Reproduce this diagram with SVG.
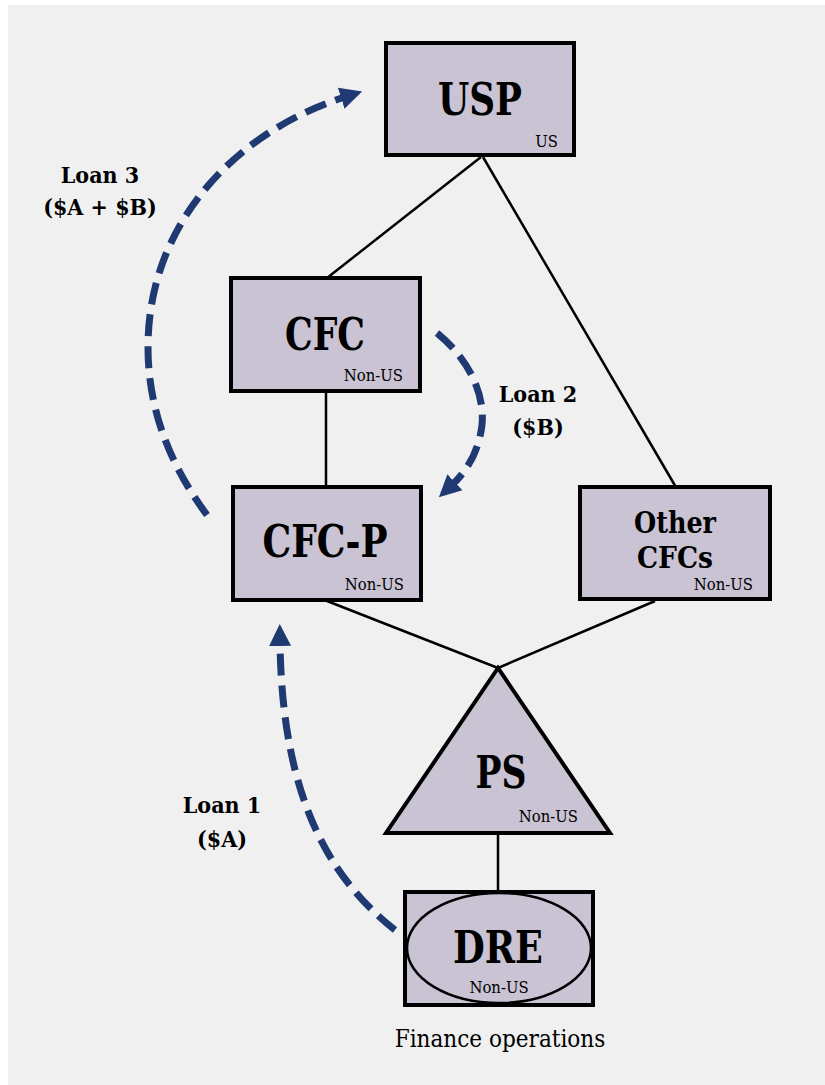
<svg xmlns="http://www.w3.org/2000/svg" width="825" height="1085" viewBox="0 0 825 1085">
  <style>
    .box { fill: #c9c3d3; stroke: #000; stroke-width: 4; }
    .oval { fill: #c9c3d3; stroke: #000; stroke-width: 2.5; }
    .link { fill: none; stroke: #000; stroke-width: 2.5; }
    .loan { fill: none; stroke: #1f3a73; stroke-width: 7; stroke-dasharray: 22 10; }
    .name { font-family: "DejaVu Serif Condensed", "DejaVu Serif", serif; font-weight: bold; fill: #000; text-anchor: middle; }
    .tag { font-family: "DejaVu Serif Condensed", "DejaVu Serif", serif; font-size: 16.5px; fill: #000; }
    .lbl { font-family: "DejaVu Serif Condensed", "DejaVu Serif", serif; font-weight: bold; font-size: 23px; fill: #000; text-anchor: middle; }
    .note { font-family: "DejaVu Serif Condensed", "DejaVu Serif", serif; font-size: 24px; fill: #000; text-anchor: middle; }
  </style>
  <defs>
    <marker id="head" markerUnits="userSpaceOnUse" markerWidth="26" markerHeight="26" refX="4" refY="12" orient="auto">
      <polygon points="0,1 22,12 0,23" fill="#1f3a73"/>
    </marker>
  </defs>

  <rect x="0" y="0" width="825" height="1085" fill="#ffffff"/>
  <rect x="8" y="5" width="817" height="1080" fill="#f0f0f0"/>

  <!-- ownership lines and loan arrows -->
  <g id="connectors">
    <line class="link" x1="481" y1="157" x2="327" y2="278"/>
    <line class="link" x1="483" y1="157" x2="677" y2="489"/>
    <line class="link" x1="326" y1="393" x2="326" y2="487"/>
    <line class="link" x1="327" y1="601" x2="498" y2="668"/>
    <line class="link" x1="655" y1="601" x2="498" y2="668"/>
    <line class="link" x1="498" y1="833" x2="498" y2="892"/>

    <path class="loan" d="M207,515 C170,465 148,410 148,347 C148,220 240,130 345,97" marker-end="url(#head)"/>
    <path class="loan" d="M437,333 C470,360 485,395 482,425 C479,450 468,470 452,485" marker-end="url(#head)"/>
    <path class="loan" d="M395,930 C325,875 282,790 280,642" marker-end="url(#head)"/>
  </g>

  <g id="usp">
    <rect class="box" x="386" y="43" width="188" height="112"/>
    <text class="name" x="480" y="115" font-size="45" textLength="84" lengthAdjust="spacingAndGlyphs">USP</text>
    <text class="tag" x="558" y="147" text-anchor="end">US</text>
  </g>

  <g id="cfc">
    <rect class="box" x="231" y="278" width="189" height="113"/>
    <text class="name" x="325" y="350" font-size="45" textLength="80" lengthAdjust="spacingAndGlyphs">CFC</text>
    <text class="tag" x="403" y="381" text-anchor="end">Non-US</text>
  </g>

  <g id="cfc-p">
    <rect class="box" x="233" y="487" width="188" height="113"/>
    <text class="name" x="325" y="557" font-size="45" textLength="125" lengthAdjust="spacingAndGlyphs">CFC-P</text>
    <text class="tag" x="404" y="590" text-anchor="end">Non-US</text>
  </g>

  <g id="other-cfcs">
    <rect class="box" x="580" y="487" width="190" height="112"/>
    <text class="name" x="675" y="533" font-size="30" textLength="82" lengthAdjust="spacingAndGlyphs">Other</text>
    <text class="name" x="675" y="568" font-size="30" textLength="76" lengthAdjust="spacingAndGlyphs">CFCs</text>
    <text class="tag" x="753" y="590" text-anchor="end">Non-US</text>
  </g>

  <g id="ps">
    <polygon class="box" points="498,668 386,833 610,833"/>
    <text class="name" x="501" y="788" font-size="45" textLength="51" lengthAdjust="spacingAndGlyphs">PS</text>
    <text class="tag" x="578" y="822" text-anchor="end">Non-US</text>
  </g>

  <g id="dre">
    <rect class="box" x="405" y="892" width="188" height="113"/>
    <ellipse class="oval" cx="499" cy="948" rx="92" ry="55"/>
    <text class="name" x="498" y="963" font-size="45" textLength="90" lengthAdjust="spacingAndGlyphs">DRE</text>
    <text class="tag" x="499" y="993" text-anchor="middle">Non-US</text>
    <text class="note" x="500" y="1047">Finance operations</text>
  </g>

  <g id="loan-labels">
    <text class="lbl" x="100" y="183">Loan 3</text>
    <text class="lbl" x="100" y="215">($A + $B)</text>
    <text class="lbl" x="538" y="402">Loan 2</text>
    <text class="lbl" x="538" y="435">($B)</text>
    <text class="lbl" x="222" y="813">Loan 1</text>
    <text class="lbl" x="222" y="847">($A)</text>
  </g>
</svg>
